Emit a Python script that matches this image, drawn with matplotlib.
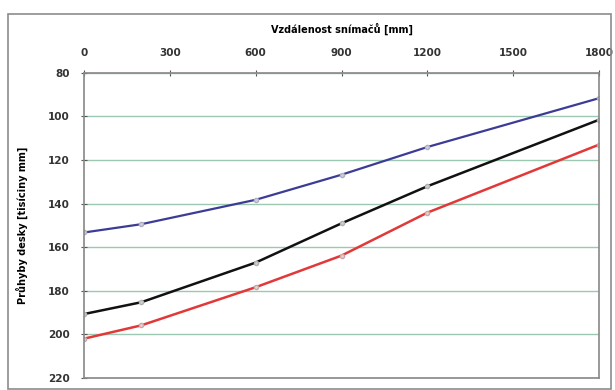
import matplotlib.pyplot as plt
from matplotlib.patches import Rectangle

# vzdálenost snímačů [mm]
distance = [0, 200, 600, 900, 1200, 1800]
# průhyby desky [tisíciny mm]
blue_vals = [153.3, 149.5, 138.3, 126.8, 114.1, 91.7]
black_vals = [190.7, 185.3, 167.1, 149.1, 132.1, 101.6]
red_vals = [202.0, 195.9, 178.4, 163.9, 144.2, 113.0]

x_ticks = [0, 300, 600, 900, 1200, 1500, 1800]
y_ticks = [80, 100, 120, 140, 160, 180, 200, 220]

fig = plt.figure(figsize=(6.15, 3.9), dpi=100)
fig.patches.append(Rectangle((0.013, 0.003), 0.98, 0.96, transform=fig.transFigure,
                             fill=False, edgecolor="#8c8c8c", linewidth=1.2))

ax = fig.add_axes([0.1366, 0.031, 0.8374, 0.7826])

ax.plot(distance, blue_vals, color="#3c3c96", linewidth=1.6,
        marker="o", markersize=3, markerfacecolor="#d0d0e0", markeredgecolor="#b0b0c0")
ax.plot(distance, black_vals, color="#111111", linewidth=1.8,
        marker="o", markersize=3, markerfacecolor="#d0d0d0", markeredgecolor="#b0b0b0")
ax.plot(distance, red_vals, color="#e23838", linewidth=1.8,
        marker="o", markersize=3, markerfacecolor="#ecd0d0", markeredgecolor="#c8a8a8")

ax.set_xlim(0, 1800)
ax.set_ylim(220, 80)
ax.set_xticks(x_ticks)
ax.set_yticks(y_ticks)
ax.xaxis.tick_top()
ax.xaxis.set_label_position("top")
ax.tick_params(axis="both", labelsize=7.5, length=5, direction="inout",
               color="#555555", labelcolor="#333333")
ax.tick_params(axis="x", pad=8)
ax.tick_params(axis="y", pad=8)
for lbl in ax.get_xticklabels() + ax.get_yticklabels():
    lbl.set_fontweight("bold")

ax.grid(axis="y", color="#9cc8b2", linewidth=1.0)
ax.set_axisbelow(True)
for s in ax.spines.values():
    s.set_color("#888888")
    s.set_linewidth(1.2)

ax.set_xlabel("Vzdálenost snímačů [mm]", fontsize=7, fontweight="bold", labelpad=11)
ax.set_ylabel("Průhyby desky [tisíciny mm]", fontsize=7, fontweight="bold", labelpad=14)

fig.savefig("out.png", dpi=100)
